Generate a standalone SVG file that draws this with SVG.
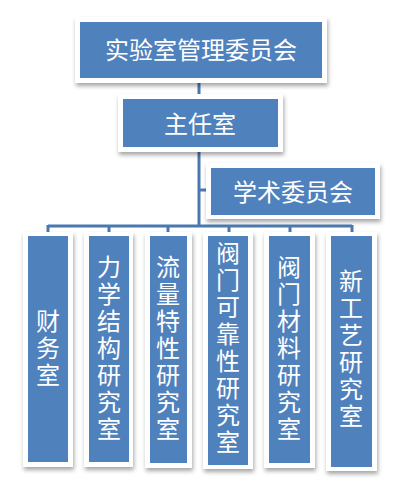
<svg xmlns="http://www.w3.org/2000/svg" width="401" height="490" viewBox="0 0 401 490">
<defs>
<filter id="sh" x="-20%" y="-20%" width="140%" height="140%">
<feDropShadow dx="1" dy="3" stdDeviation="2" flood-color="#000" flood-opacity="0.35"/>
</filter>
<style>
.frame{fill:#fff;filter:url(#sh)}
.box{fill:#4F81BD}
.t{font-family:"Noto Sans CJK SC","Noto Sans",sans-serif;font-size:24px;fill:#fff;text-anchor:middle;dominant-baseline:central}
.v{writing-mode:vertical-rl;letter-spacing:3px}
.c{stroke:#4A78B0;stroke-width:3;fill:none}
</style>
</defs>
<rect width="401" height="490" fill="#fff"/>
<g id="connectors">
<path class="c" d="M199 83V94M199 152V226M199 190H207M48 226H352M48 225V233M109 225V233M168 225V233M229 225V233M290 225V233M352 225V233"/>
</g>
<g id="n1">
<rect class="frame" x="75" y="17" width="252" height="66"/>
<rect class="box" x="80" y="22" width="242" height="56"/>
<text class="t" x="201" y="48">实验室管理委员会</text>
</g>
<g id="n2">
<rect class="frame" x="118" y="94" width="165" height="58"/>
<rect class="box" x="123" y="99" width="155" height="48"/>
<text class="t" x="200" y="122">主任室</text>
</g>
<g id="n3">
<rect class="frame" x="206" y="163" width="174" height="56"/>
<rect class="box" x="211" y="168" width="164" height="47"/>
<text class="t" x="293" y="190">学术委员会</text>
</g>
<g id="n4">
<rect class="frame" x="23" y="232" width="50" height="235"/>
<rect class="box" x="28" y="236" width="40" height="226"/>
<text class="t v" x="48" y="349">财务室</text>
</g>
<g id="n5">
<rect class="frame" x="84" y="232" width="49" height="235"/>
<rect class="box" x="89" y="236" width="40" height="226"/>
<text class="t v" x="109" y="349">力学结构研究室</text>
</g>
<g id="n6">
<rect class="frame" x="145" y="232" width="47" height="236"/>
<rect class="box" x="150" y="236" width="37" height="227"/>
<text class="t v" x="168" y="349">流量特性研究室</text>
</g>
<g id="n7">
<rect class="frame" x="203" y="232" width="50" height="237"/>
<rect class="box" x="208" y="236" width="40" height="229"/>
<text class="t v" x="228" y="349">阀门可靠性研究室</text>
</g>
<g id="n8">
<rect class="frame" x="264" y="232" width="51" height="236"/>
<rect class="box" x="269" y="236" width="41" height="227"/>
<text class="t v" x="289" y="349">阀门材料研究室</text>
</g>
<g id="n9">
<rect class="frame" x="326" y="232" width="51" height="239"/>
<rect class="box" x="331" y="236" width="41" height="231"/>
<text class="t v" x="351" y="350">新工艺研究室</text>
</g>
</svg>
